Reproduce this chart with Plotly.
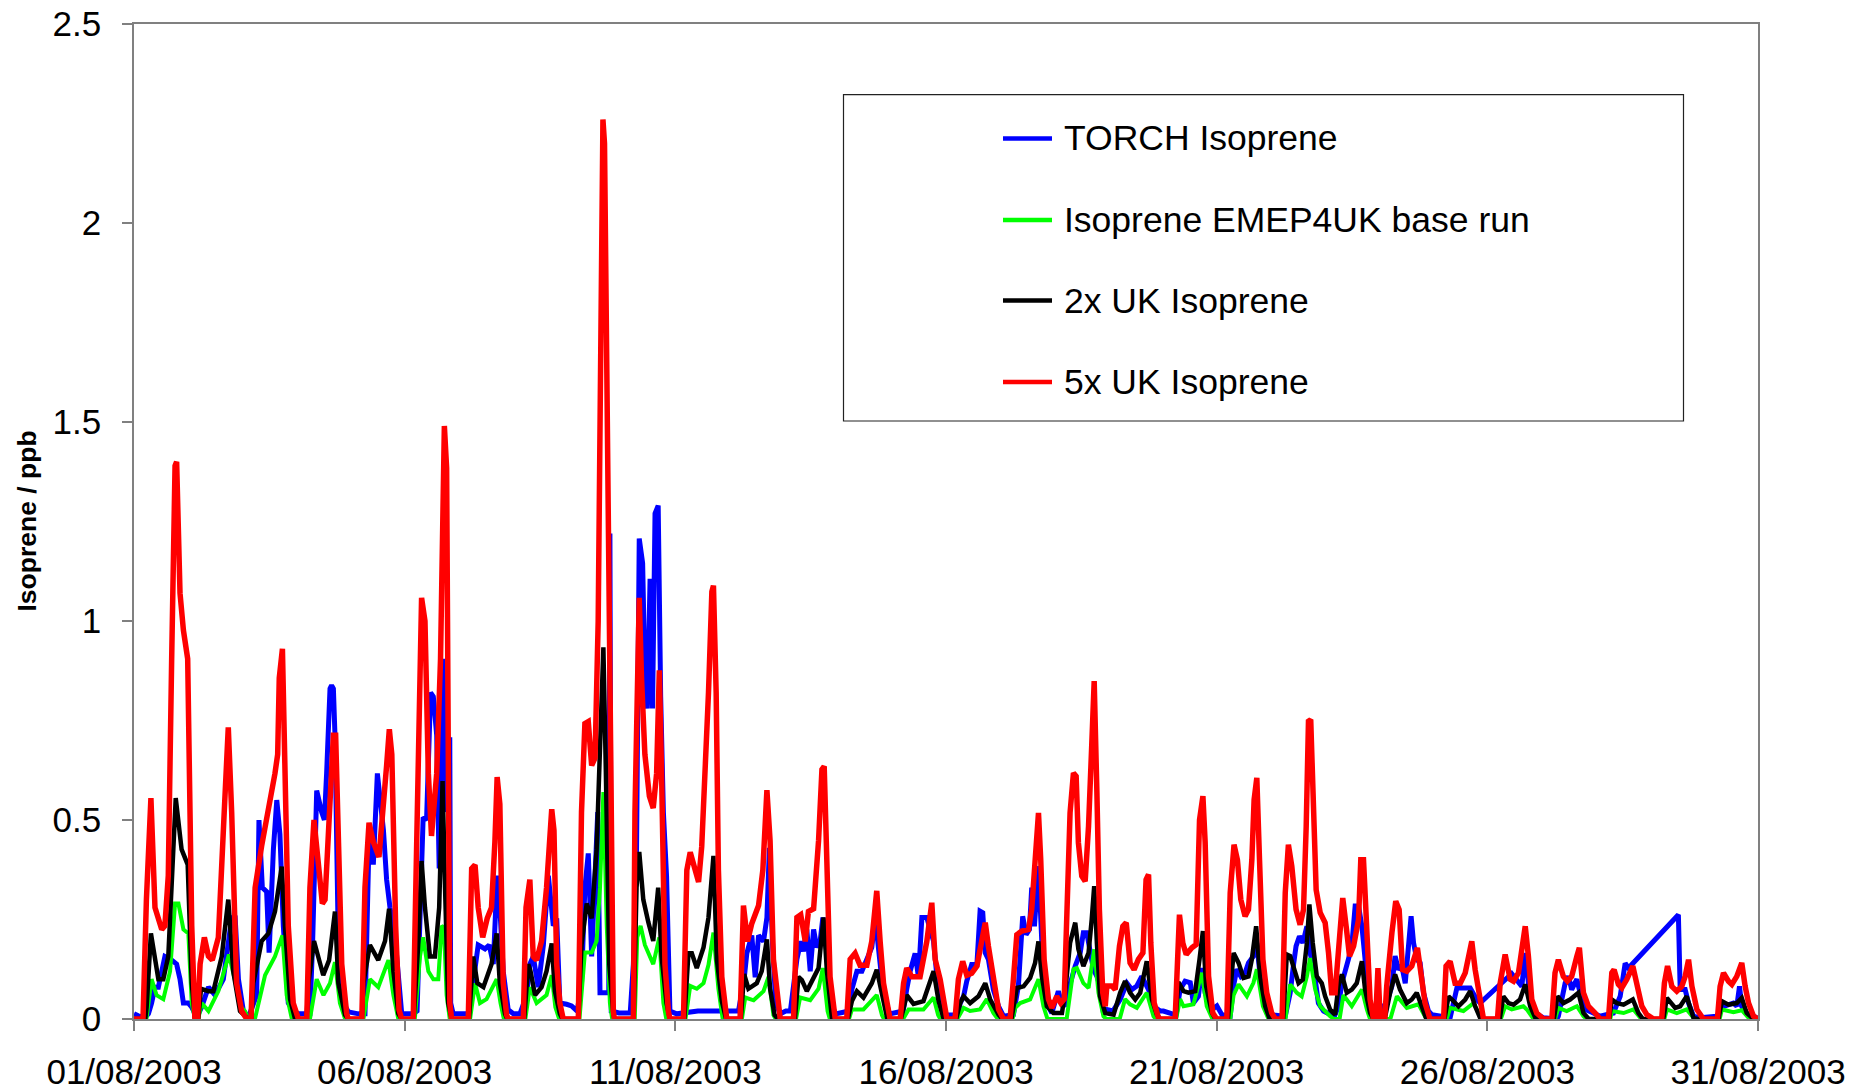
import plotly.graph_objects as go
from datetime import datetime, timedelta

# Hourly-resolution breakpoints: (hours since 01/08/2003 00:00, isoprene in ppb)
torch_obs = [
    (0, 0.013), (1.9, 0.008), (4.9, 0.004), (6.4, 0.013), (7.8, 0.04), (9.3, 0.08), (10.8, 0.08),
    (12.3, 0.12), (13.7, 0.157), (16.7, 0.148), (18.9, 0.138), (20.4, 0.10), (21.9, 0.04), (24.1, 0.04),
    (25.6, 0.03), (27.8, 0.004),
    (30, 0.03), (33, 0.08), (35.9, 0.06), (39.6, 0.10), (43.3, 0.253), (44.8, 0.26), (46.3, 0.10),
    (48.5, 0.02), (50.7, 0.004),
    (54.4, 0.06), (55.4, 0.50), (56.9, 0.33), (58.8, 0.32), (59.9, 0.167), (61.8, 0.426), (63.3, 0.55),
    (64.7, 0.464), (66.2, 0.234), (68.4, 0.04), (70.6, 0.02), (73, 0.013), (76, 0.013),
    (78, 0.013), (79.2, 0.195), (81, 0.574), (83.2, 0.52), (84.4, 0.50), (85.4, 0.617), (86.9, 0.83),
    (87.6, 0.838), (88.4, 0.83), (89.1, 0.713), (90.6, 0.186), (92.8, 0.04), (95, 0.018), (99.5, 0.013),
    (102.4, 0.013), (104.3, 0.474), (106.1, 0.388), (107.9, 0.617), (109.1, 0.56), (110.6, 0.474),
    (112, 0.35), (113.5, 0.28), (115.7, 0.205), (117.5, 0.10), (118.7, 0.013), (121.6, 0.013), (123.8, 0.013),
    (125.5, 0.02), (126.8, 0.234), (128.2, 0.507), (129.7, 0.50), (131.5, 0.82), (132.7, 0.81),
    (134.2, 0.713), (135.3, 0.378), (137.1, 0.905), (138.6, 0.52), (140, 0.708), (140.4, 0.04),
    (141.5, 0.013), (148.5, 0.013),
    (150.4, 0.09), (152.6, 0.186), (155.6, 0.176), (157.5, 0.186), (159.3, 0.138), (161, 0.36),
    (162.2, 0.28), (163.7, 0.12), (165.9, 0.023), (168.2, 0.013), (171.1, 0.013),
    (174.1, 0.06), (175.5, 0.138), (177, 0.157), (179.2, 0.08), (181.5, 0.186), (183.7, 0.36),
    (185.9, 0.234), (187.4, 0.253), (188.8, 0.04), (191.8, 0.037), (194, 0.033), (196.5, 0.02),
    (198.4, 0.09), (199.9, 0.33), (201.4, 0.416), (202.9, 0.157), (204.4, 0.33), (205.6, 0.52),
    (206.6, 0.066), (210.5, 0.066), (211.0, 1.22), (211.6, 0.02), (215, 0.015), (220, 0.015),
    (221.4, 0.138), (222.8, 0.426), (224, 1.207), (225.5, 1.145), (226.5, 0.867), (227.6, 0.78),
    (228.8, 1.106), (229.9, 0.78), (231, 1.27), (232.4, 1.29), (233.5, 0.81), (234.7, 0.52),
    (236.1, 0.36), (237.6, 0.02), (240.6, 0.013), (250, 0.02), (262, 0.02), (268, 0.02),
    (270.5, 0.1), (271.7, 0.165), (273.9, 0.21), (275.4, 0.105), (276.9, 0.21), (279.1, 0.195),
    (280.6, 0.255), (281.7, 0.43), (283, 0.2), (284.5, 0.04), (286.5, 0.013), (289, 0.02), (291, 0.02),
    (293.9, 0.15), (295.6, 0.195), (296.8, 0.17), (298.3, 0.225), (299.8, 0.12), (301.3, 0.225),
    (302.7, 0.18), (304.2, 0.195), (305.4, 0.255), (307.2, 0.165), (308.6, 0.045), (311, 0.013),
    (317, 0.02), (318.3, 0.075), (320.5, 0.12), (322.7, 0.12), (324.9, 0.15), (327.1, 0.18),
    (328.6, 0.255), (330.1, 0.18), (332.3, 0.06), (335, 0.013),
    (341, 0.02), (342.6, 0.075), (344.1, 0.12), (346.3, 0.165), (347.8, 0.105), (349.3, 0.255),
    (351.5, 0.255), (353, 0.225), (354.5, 0.195), (356, 0.105), (357.4, 0.05), (359, 0.01),
    (365, 0.01), (366.3, 0.04), (367.8, 0.057), (369.2, 0.095), (371.4, 0.137), (373.7, 0.137),
    (375.1, 0.271), (376.3, 0.267), (377.4, 0.166), (378.8, 0.15), (381, 0.074), (383.3, 0.032), (385.5, 0.007),
    (389.9, 0.011), (392.1, 0.083), (394, 0.258), (395.5, 0.212), (397, 0.225), (398, 0.33),
    (399.2, 0.233), (401, 0.384), (402.5, 0.191), (404.7, 0.04), (406.9, 0.015), (409.8, 0.07),
    (411.3, 0.04), (412.8, 0.032),
    (414.3, 0.074), (415.8, 0.107), (417.3, 0.133), (419.5, 0.166), (420.9, 0.217), (422.4, 0.217),
    (423.9, 0.175), (425.4, 0.124), (426.9, 0.107), (428.3, 0.083), (429.8, 0.015), (431.3, 0.024),
    (434, 0.02), (437.2, 0.049), (440.2, 0.09), (442.4, 0.074), (444.6, 0.083), (446.8, 0.107),
    (449.8, 0.074), (452, 0.032), (455, 0.02), (456.4, 0.02),
    (462, 0.01), (463.8, 0.074), (466, 0.095), (468.3, 0.091), (469.7, 0.04), (471.9, 0.057),
    (473.4, 0.128), (474.9, 0.066), (477.9, 0.024), (480.1, 0.033), (482.3, 0.011),
    (486, 0.007), (487.5, 0.083), (488.9, 0.125), (490.7, 0.107), (492.6, 0.116), (494.1, 0.141),
    (496.3, 0.158), (497.8, 0.191), (500, 0.066), (502.2, 0.024), (505, 0.01),
    (510.4, 0.007), (512.6, 0.066), (514, 0.133), (515.2, 0.183), (516.7, 0.208), (518.2, 0.191),
    (520, 0.233), (521.4, 0.166), (522.9, 0.133), (525.1, 0.04), (527.4, 0.02), (530.3, 0.011), (532.5, 0.011),
    (534, 0.032), (535.5, 0.09), (537, 0.116), (538.4, 0.15), (539.9, 0.183), (541.4, 0.284),
    (542.9, 0.284), (544.4, 0.233), (545.8, 0.15), (547.3, 0.041), (549.5, 0.007),
    (555.4, 0.041), (557.7, 0.083), (559.1, 0.158), (560.6, 0.124), (562.1, 0.133), (563.6, 0.09),
    (565, 0.2), (566.2, 0.258), (567.3, 0.191), (568.7, 0.15), (570.2, 0.141), (571.7, 0.066),
    (573.9, 0.02), (575.4, 0.011),
    (583.5, 0.003), (585, 0.041), (586.5, 0.078), (589.4, 0.078), (592.4, 0.078), (595.3, 0.049),
    (596.8, 0.04), (610.8, 0.114), (613.1, 0.095), (615.3, 0.082), (616.8, 0.166), (619, 0.049),
    (621.2, 0.015), (624.9, 0.003), (630.8, 0.0), (631.5, 0.007), (634.5, 0.09), (636, 0.107),
    (637.4, 0.074), (639.7, 0.1), (641.1, 0.066), (643.4, 0.024), (647, 0.015), (650, 0.007),
    (655.9, 0.015), (658.9, 0.057), (661.1, 0.14), (662.6, 0.128), (684.7, 0.262), (685.5, 0.074),
    (687.7, 0.074), (689.2, 0.04), (691.4, 0.007), (694.4, 0.003), (701.7, 0.007), (704.7, 0.032),
    (709.1, 0.04), (710.6, 0.032), (711.8, 0.082), (712.8, 0.032), (715, 0.015), (719.5, 0.003),
]

emep_base = [
    (0, 0), (5.5, 0), (7.8, 0.10), (10, 0.06), (13, 0.05), (16, 0.12), (18.2, 0.29), (19.7, 0.29),
    (21.9, 0.225), (24.1, 0.215), (25.6, 0.04), (27, 0),
    (28.5, 0), (30, 0.04), (33, 0.02), (37.4, 0.07), (42.1, 0.162), (44.8, 0.10), (47.5, 0.03), (49.2, 0.02), (50.7, 0),
    (53.6, 0), (58.1, 0.11), (62.5, 0.157), (65.8, 0.21), (67.7, 0.06), (70, 0),
    (78, 0), (81, 0.10), (84, 0.06), (86.9, 0.09), (89.1, 0.143), (91.3, 0.04), (93.6, 0),
    (101.7, 0), (104.6, 0.10), (108.3, 0.08), (112.8, 0.148), (115, 0.06), (117.2, 0),
    (124.5, 0), (126.8, 0.157), (128.2, 0.205), (130.5, 0.12), (132.7, 0.10), (134.9, 0.10),
    (136.4, 0.234), (137.4, 0.23), (138.6, 0.06), (140, 0),
    (149, 0), (151.2, 0.09), (153.4, 0.04), (156.3, 0.05), (160.8, 0.10), (162.5, 0.04), (164, 0),
    (173.5, 0), (175.5, 0.08), (178.5, 0.04), (182.9, 0.06), (185.2, 0.11), (186.8, 0.03), (188.5, 0),
    (197.5, 0), (199.9, 0.167), (202.9, 0.167), (205.1, 0.196), (206.6, 0.33), (208.1, 0.57),
    (209.6, 0.234), (211, 0.04), (212, 0),
    (222, 0), (223.1, 0.205), (224.6, 0.234), (226.5, 0.186), (230.2, 0.138), (232.9, 0.205), (234.7, 0.04), (236, 0),
    (244.5, 0), (246.6, 0.083), (249.5, 0.076), (252.5, 0.09), (254.7, 0.136), (256.9, 0.217), (259.1, 0.076), (261, 0),
    (269.5, 0), (271, 0.054), (274.7, 0.047), (279.1, 0.07), (281.3, 0.106), (283.5, 0.01), (284.5, 0),
    (293.5, 0), (295.3, 0.054), (299.8, 0.047), (303.5, 0.076), (305.4, 0.128), (307.5, 0.02), (308.5, 0),
    (317, 0), (318.3, 0.024), (323.4, 0.024), (329.3, 0.06), (331.6, 0.01), (332.5, 0),
    (341, 0), (343.4, 0.024), (350, 0.024), (354.5, 0.054), (356.5, 0.01), (357.5, 0),
    (365, 0), (367.8, 0.028), (370.7, 0.02), (375.1, 0.024), (378.1, 0.05), (381, 0.015), (383, 0),
    (389.5, 0), (390.7, 0.028), (392.9, 0.04), (397.3, 0.049), (401, 0.1), (403.2, 0.032), (405, 0),
    (413.5, 0), (414.8, 0.05), (416.5, 0.125), (418, 0.128), (420.9, 0.09), (423.2, 0.078),
    (425.7, 0.175), (427.6, 0.066), (429.8, 0.007), (431, 0),
    (437, 0), (439.4, 0.05), (441.6, 0.037), (444.6, 0.028), (449, 0.066), (452, 0.007), (453, 0),
    (462, 0), (463.8, 0.05), (465.3, 0.032), (469.7, 0.037), (473.4, 0.116), (475.6, 0.032), (477.9, 0.003), (479, 0),
    (486, 0), (487.5, 0.06), (489.7, 0.087), (493.4, 0.057), (496.3, 0.091), (497.8, 0.125), (500.5, 0.032), (503, 0),
    (510.5, 0), (512.6, 0.087), (515.5, 0.066), (517.7, 0.057), (520, 0.107), (521.4, 0.153),
    (523.7, 0.074), (525.9, 0.032), (530.3, 0.007), (532, 0),
    (534.5, 0), (536.2, 0.06), (539.9, 0.032), (544.4, 0.074), (546.6, 0.024), (548, 0),
    (557, 0), (559.9, 0.057), (564.3, 0.028), (569.5, 0.037), (571.9, 0.011), (573, 0),
    (582, 0), (583.5, 0.028), (589.4, 0.02), (593.9, 0.04), (596.8, 0.007), (598, 0),
    (606, 0), (607.9, 0.032), (610.8, 0.024), (616, 0.032), (617.5, 0.024), (620.5, 0),
    (630, 0), (631.5, 0.028), (635.2, 0.02), (639.7, 0.032), (642.6, 0.007), (644, 0),
    (654.5, 0), (655.2, 0.02), (660.4, 0.015), (664.8, 0.024), (667.8, 0.003), (669, 0),
    (678.5, 0), (679.6, 0.024), (684, 0.015), (688.4, 0.024), (691.4, 0.003), (692.5, 0),
    (703, 0), (704, 0.024), (709.1, 0.017), (712.8, 0.022), (715.8, 0.003), (717, 0), (720, 0),
]

uk_2x = [
    (0, 0), (5, 0), (5.6, 0.03), (7.5, 0.215), (10.8, 0.10), (13, 0.10), (15.2, 0.157), (16.7, 0.33),
    (18.5, 0.555), (21.1, 0.426), (23.8, 0.388), (25.6, 0.09), (27, 0),
    (28.5, 0), (29.7, 0.076), (33, 0.07), (35.2, 0.07), (38.9, 0.157), (41.8, 0.30), (44, 0.12), (47, 0.02), (50.7, 0),
    (52, 0), (52.9, 0.09), (56.6, 0.196), (59.6, 0.215), (62.5, 0.27), (65.5, 0.383), (66.9, 0.234), (69.2, 0.05), (71.4, 0),
    (76.5, 0), (77.3, 0.09), (79.8, 0.196), (83.9, 0.11), (86.5, 0.148), (89.1, 0.27), (90.6, 0.09), (93.6, 0.01), (95, 0),
    (101, 0), (101.7, 0.09), (104.6, 0.186), (108.3, 0.148), (111.3, 0.196), (113.1, 0.277), (115, 0.12), (117.2, 0.013), (118.7, 0),
    (124, 0), (126, 0.186), (127.5, 0.397), (129, 0.28), (131.2, 0.157), (133.4, 0.157), (135.3, 0.28),
    (136.8, 0.598), (137.9, 0.33), (139.3, 0.04), (140.8, 0),
    (148.5, 0), (150.4, 0.157), (152.2, 0.09), (154.9, 0.08), (158.5, 0.138), (160.8, 0.215), (162.2, 0.09), (164.5, 0.013), (165.5, 0),
    (173, 0), (174.8, 0.138), (175.8, 0.12), (177.8, 0.06), (180.7, 0.08), (182.9, 0.12), (185.2, 0.19), (186.6, 0.07), (188.8, 0.013), (190, 0),
    (197, 0), (198.4, 0.186), (200.7, 0.29), (202.9, 0.253), (205.1, 0.426), (206.6, 0.713), (208.1, 0.934),
    (209.2, 0.62), (210.7, 0.138), (212.5, 0.013), (213, 0),
    (221.5, 0), (222.8, 0.33), (224, 0.42), (225.8, 0.30), (228, 0.244), (230.2, 0.196), (232.4, 0.33), (233.9, 0.157), (236.1, 0.04), (237.6, 0),
    (244, 0), (245.8, 0.165), (247.3, 0.165), (249.5, 0.128), (252.5, 0.18), (254.7, 0.255), (256.9, 0.41), (258.4, 0.15), (260.6, 0.045), (262.5, 0),
    (269, 0), (270.5, 0.113), (272.4, 0.076), (276.1, 0.09), (278.3, 0.12), (280.6, 0.2), (282, 0.076), (284, 0.01), (285.5, 0),
    (293, 0), (294.6, 0.106), (296.1, 0.098), (298.3, 0.07), (301.3, 0.106), (303.5, 0.128), (305.7, 0.255), (307.2, 0.12), (309.5, 0),
    (316.5, 0), (318.3, 0.045), (320.5, 0.07), (323.4, 0.054), (327.1, 0.09), (329.3, 0.124), (331.6, 0.06), (334, 0),
    (340, 0), (342.6, 0.06), (345.6, 0.038), (350, 0.045), (354.5, 0.12), (356.7, 0.045), (359, 0),
    (364.5, 0), (366.3, 0.04), (367.8, 0.057), (370.7, 0.04), (374.4, 0.057), (377.4, 0.09), (379.6, 0.049), (383.3, 0.011), (385, 0),
    (389, 0), (391.4, 0.078), (394.4, 0.082), (397.3, 0.103), (399.5, 0.141), (401, 0.195), (402.5, 0.107),
    (404.7, 0.032), (407.6, 0.015), (411.4, 0.015), (412.8, 0.066),
    (415, 0.191), (417.3, 0.242), (418.7, 0.175), (420.9, 0.133), (423.2, 0.166), (424.6, 0.25), (425.7, 0.334),
    (426.9, 0.19), (428.3, 0.057), (430.6, 0.015), (434.3, 0.011),
    (437.2, 0.066), (439.4, 0.095), (441.6, 0.066), (443.9, 0.049), (446.1, 0.066), (449, 0.145), (451.3, 0.049), (453.5, 0.011), (455, 0),
    (461.8, 0), (463, 0.093), (465.3, 0.07), (467.5, 0.066), (470.5, 0.07), (472.4, 0.15), (473.9, 0.221), (475.3, 0.083), (477.9, 0.015), (479.5, 0),
    (485, 0), (486.5, 0.1), (487.5, 0.166), (489.7, 0.141), (491.9, 0.103), (494.1, 0.107), (495.6, 0.15),
    (497.5, 0.233), (499.3, 0.107), (501.5, 0.032), (503.5, 0),
    (509.5, 0), (511.1, 0.162), (512.6, 0.158), (514.8, 0.116), (516.3, 0.09), (518.2, 0.099), (520, 0.191),
    (521.1, 0.288), (522.6, 0.191), (524.4, 0.107), (526.6, 0.09), (528.1, 0.057), (530.3, 0.024), (532.5, 0.011),
    (534, 0.083), (535.5, 0.112), (537.7, 0.066), (539.9, 0.074), (542.1, 0.09), (544.4, 0.145), (545.8, 0.074), (548, 0.015), (549.5, 0),
    (554.5, 0), (556.9, 0.066), (559.1, 0.112), (561.3, 0.074), (564.3, 0.04), (566.5, 0.049), (568.7, 0.066), (571, 0.032), (573, 0),
    (581, 0), (582.8, 0.057), (584.3, 0.049), (587.2, 0.032), (590.2, 0.049), (592.4, 0.07), (594.6, 0.032), (597, 0),
    (605.5, 0), (607.1, 0.057), (609.4, 0.04), (611.6, 0.036), (614.5, 0.049), (616.8, 0.087), (619, 0.032), (621.5, 0),
    (629.5, 0), (631.1, 0.057), (633.7, 0.04), (636.7, 0.049), (640.4, 0.066), (642.6, 0.015), (645, 0),
    (654, 0), (655.2, 0.049), (657.4, 0.04), (660.4, 0.036), (664.5, 0.049), (667, 0.015), (669, 0),
    (678, 0), (679.6, 0.053), (683.3, 0.028), (685.5, 0.032), (688.4, 0.057), (691.4, 0.003), (693, 0),
    (702.5, 0), (704, 0.045), (706.9, 0.036), (710.6, 0.04), (712.8, 0.053), (715, 0.015), (718, 0), (720, 0),
]

uk_5x = [
    (0, 0), (4, 0), (5.5, 0.3), (7.5, 0.555), (9.3, 0.28), (12.3, 0.225), (13.7, 0.234), (15.2, 0.36),
    (16.7, 0.905), (18.2, 1.39), (18.9, 1.40), (20.4, 1.07), (21.9, 0.977), (23.8, 0.905), (25.6, 0.234), (27.0, 0),
    (28.2, 0), (29.3, 0.138), (31.2, 0.205), (33.0, 0.158), (34.7, 0.148), (37.4, 0.205), (40.0, 0.52),
    (41.8, 0.733), (43.3, 0.52), (45.5, 0.09), (47.7, 0.02), (50.0, 0),
    (51.9, 0), (53.7, 0.33), (56.6, 0.435), (59.6, 0.52), (62.5, 0.617), (63.7, 0.665), (64.4, 0.857),
    (65.8, 0.93), (66.9, 0.617), (68.4, 0.234), (70.6, 0.04), (72.9, 0),
    (76.6, 0), (78.0, 0.33), (79.8, 0.50), (81.7, 0.378), (83.5, 0.29), (84.7, 0.30), (86.5, 0.474),
    (88.4, 0.713), (89.4, 0.713), (90.6, 0.426), (92.1, 0.138), (94.3, 0.013), (95, 0),
    (101, 0), (102.4, 0.33), (104.2, 0.493), (106.1, 0.445), (108.6, 0.407), (110.6, 0.522), (112.0, 0.637),
    (113.2, 0.728), (114.3, 0.665), (116.0, 0.234), (117.5, 0.023), (118.7, 0),
    (123.8, 0), (124.6, 0.234), (126, 0.713), (127.5, 1.058), (129, 1.0), (130.5, 0.617), (131.9, 0.46),
    (134.2, 0.617), (135.9, 0.905), (137.1, 1.49), (137.6, 1.49), (138.6, 1.385), (140, 0.04), (140.8, 0),
    (148.2, 0), (149.7, 0.378), (151.2, 0.387), (152.6, 0.28), (154.6, 0.205), (156.6, 0.253), (158.5, 0.28),
    (160, 0.445), (161, 0.608), (162.2, 0.54), (163.7, 0.09), (165.2, 0.01), (166, 0),
    (172.6, 0), (173.8, 0.28), (175.5, 0.35), (177, 0.157), (178.5, 0.148), (180.7, 0.196), (182.9, 0.33),
    (185.2, 0.527), (186.2, 0.474), (187.4, 0.138), (188.8, 0.04), (190.3, 0),
    (197, 0), (198.4, 0.52), (199.9, 0.742), (201.4, 0.747), (202.9, 0.637), (204.4, 0.656), (205.8, 1.0),
    (206.6, 1.5), (207.3, 2.05), (207.9, 2.26), (208.6, 2.20), (209.8, 1.48), (211, 0.6), (212.5, 0.02), (213, 0),
    (221.4, 0), (222.1, 0.52), (223.1, 0.81), (224, 1.058), (225, 0.857), (226.5, 0.665), (228.5, 0.56),
    (230.2, 0.53), (231.7, 0.617), (232.9, 0.876), (233.9, 0.617), (235.4, 0.138), (236.9, 0.02), (237.6, 0),
    (243.6, 0), (245.1, 0.374), (246.6, 0.419), (248, 0.389), (250.3, 0.344), (251.7, 0.433), (253.2, 0.597),
    (254.7, 0.82), (256.2, 1.074), (256.9, 1.089), (258.1, 0.82), (259.1, 0.374), (260.6, 0.106), (262.8, 0),
    (268.7, 0), (270.2, 0.285), (272, 0.195), (273.9, 0.24), (276.9, 0.285), (278.8, 0.374), (280.6, 0.575),
    (282, 0.448), (283.5, 0.15), (285.7, 0.03), (286.5, 0),
    (292.4, 0), (293.9, 0.255), (295.6, 0.262), (297.6, 0.195), (299, 0.27), (301.3, 0.277), (303.5, 0.448),
    (305, 0.627), (306, 0.635), (307.2, 0.374), (308.6, 0.106), (310.9, 0),
    (316, 0), (317.5, 0.15), (319.7, 0.165), (321.9, 0.135), (324.9, 0.135), (327.1, 0.195), (329.3, 0.322),
    (330.8, 0.195), (332.3, 0.09), (335.2, 0),
    (339.7, 0), (341.2, 0.09), (342.6, 0.128), (344.9, 0.106), (348.5, 0.106), (351.5, 0.195), (353.7, 0.292),
    (355.2, 0.15), (357.4, 0.1), (360.4, 0),
    (364, 0), (365.5, 0.1), (367.4, 0.145), (369.2, 0.11), (371.4, 0.115), (373.7, 0.133), (375.9, 0.2),
    (377.4, 0.242), (378.8, 0.183), (381.1, 0.1), (383.3, 0.024), (385.5, 0),
    (388.4, 0), (389.9, 0.1), (391.4, 0.212), (393.6, 0.221), (396.6, 0.225), (398, 0.275), (399.5, 0.4),
    (401, 0.518), (402, 0.4), (403.5, 0.15), (405.4, 0.05), (406.9, 0.028), (409.1, 0.057), (410.9, 0.04), (412.4, 0.05),
    (413.6, 0.275), (415, 0.518), (416.5, 0.618), (417.7, 0.61), (418.7, 0.443), (420.2, 0.359), (421.7, 0.346),
    (423.2, 0.485), (424.6, 0.686), (425.7, 0.849), (426.9, 0.568), (428, 0.275), (429.5, 0.066), (430.6, 0.032),
    (431.3, 0.083), (433.5, 0.083), (435, 0.074), (436.9, 0.183), (438.4, 0.233), (439.9, 0.242), (441.6, 0.141),
    (443.4, 0.124), (445.3, 0.15), (447.3, 0.166), (448.7, 0.35), (449.8, 0.363), (450.8, 0.191), (452.3, 0.04),
    (454.2, 0.003), (455, 0),
    (461.6, 0), (462.6, 0.191), (463.5, 0.262), (465, 0.191), (466.5, 0.162), (469, 0.179), (470.9, 0.187),
    (472.4, 0.5), (473.9, 0.56), (474.9, 0.443), (476.4, 0.108), (478.3, 0.015), (480, 0),
    (484.5, 0), (486, 0.317), (487.7, 0.438), (489.2, 0.4), (490.7, 0.3), (492.6, 0.258), (494.1, 0.275),
    (495.6, 0.4), (496.6, 0.551), (497.8, 0.606), (499, 0.4), (500.5, 0.15), (502.2, 0.066), (504.4, 0.015), (506, 0),
    (509, 0), (510.4, 0.317), (511.8, 0.438), (513.3, 0.384), (515.2, 0.275), (517, 0.237), (518.5, 0.275),
    (519.7, 0.485), (520.7, 0.748), (521.7, 0.752), (522.9, 0.485), (524.1, 0.325), (525.9, 0.267),
    (528.1, 0.242), (529.6, 0.166), (531, 0.066), (532.5, 0.066),
    (534, 0.191), (535.9, 0.304), (537.4, 0.233), (538.9, 0.158), (540.7, 0.183), (542.9, 0.25), (543.9, 0.4),
    (545.1, 0.4), (545.8, 0.317), (546.6, 0.191), (548, 0.049), (549.5, 0), (550.5, 0), (551.5, 0.128),
    (552.5, 0), (554.5, 0),
    (555.4, 0.083), (557.7, 0.217), (559.4, 0.296), (560.9, 0.275), (562.4, 0.124), (564.3, 0.12),
    (566.5, 0.133), (569, 0.179), (570.5, 0.108), (572.4, 0.04), (574.6, 0),
    (580.6, 0), (581.7, 0.133), (583.5, 0.145), (585.7, 0.09), (588, 0.09), (590.2, 0.116), (591.6, 0.15),
    (593.1, 0.195), (594.6, 0.124), (596.8, 0.04), (598.3, 0),
    (604.5, 0), (605.7, 0.09), (607.9, 0.162), (610.1, 0.1), (611.6, 0.095), (613.8, 0.116), (615.3, 0.175),
    (616.8, 0.233), (618.2, 0.158), (619.7, 0.049), (621.9, 0.015), (624.9, 0),
    (628.6, 0), (630, 0.116), (631.5, 0.149), (633.7, 0.107), (635.5, 0.095), (637.4, 0.107), (639.7, 0.158),
    (640.8, 0.179), (642.6, 0.066), (644.8, 0.032), (647.8, 0.015), (650, 0),
    (653.7, 0), (655.2, 0.116), (656.2, 0.124), (658.1, 0.087), (659.6, 0.078), (661.8, 0.099), (664.5, 0.133),
    (666.3, 0.082), (668.5, 0.032), (670.7, 0.011), (673.7, 0),
    (677.3, 0), (678.5, 0.09), (679.9, 0.133), (681.8, 0.082), (684, 0.07), (686.2, 0.082), (687.7, 0.107),
    (689.2, 0.149), (690.7, 0.082), (692.9, 0.024), (695.8, 0),
    (702, 0), (703.2, 0.082), (704.7, 0.116), (706.9, 0.095), (708.4, 0.087), (710.6, 0.107), (712.8, 0.141),
    (714.3, 0.082), (715.8, 0.04), (718, 0.007), (720, 0),
]

tick_dates = ["2003-08-01", "2003-08-06", "2003-08-11", "2003-08-16", "2003-08-21", "2003-08-26", "2003-08-31"]
tick_labels = ["01/08/2003", "06/08/2003", "11/08/2003", "16/08/2003", "21/08/2003", "26/08/2003", "31/08/2003"]
y_ticks = [0, 0.5, 1, 1.5, 2, 2.5]

series = [
    ("TORCH Isoprene", torch_obs, "#0000FF", 5),
    ("Isoprene EMEP4UK base run", emep_base, "#00FF00", 4),
    ("2x UK Isoprene", uk_2x, "#000000", 4.5),
    ("5x UK Isoprene", uk_5x, "#FF0000", 5.5),
]

START = datetime(2003, 8, 1)
FONT = "Liberation Sans, Arial, sans-serif"

# Figure geometry in pixels
W, H = 1855, 1091
ML, MR, MT, MB = 134, 97, 24, 72
PW, PH = W - ML - MR, H - MT - MB


def px_x(px):
    return (px - ML) / PW


def px_y(py):
    return (H - MB - py) / PH


fig = go.Figure()
for name, pts, color, width in series:
    fig.add_trace(go.Scatter(
        x=[START + timedelta(hours=h) for h, _ in pts],
        y=[v for _, v in pts],
        mode="lines",
        name=name,
        line=dict(color=color, width=width),
        showlegend=False,
    ))

# Legend frame, line samples and labels
shapes = [dict(type="rect", xref="paper", yref="paper",
               x0=px_x(843.5), x1=px_x(1683.5), y0=px_y(421), y1=px_y(94.6),
               line=dict(color="#222222", width=1.2), fillcolor="white", layer="below")]
annotations = []
legend_rows = [138.4, 220, 300.5, 382]
for (name, _, color, _), ry in zip(series, legend_rows):
    shapes.append(dict(type="line", xref="paper", yref="paper",
                       x0=px_x(1003), x1=px_x(1052), y0=px_y(ry), y1=px_y(ry),
                       line=dict(color=color, width=4.5)))
    annotations.append(dict(xref="paper", yref="paper", x=px_x(1062), y=px_y(ry),
                            text=name, showarrow=False, xanchor="left", yanchor="middle",
                            font=dict(family=FONT, size=35.5, color="black")))

annotations.append(dict(xref="paper", yref="paper", x=px_x(26), y=0.5, text="<b>Isoprene / ppb</b>",
                        textangle=-90, showarrow=False, xanchor="center", yanchor="middle",
                        font=dict(family=FONT, size=26.5, color="black")))

fig.update_layout(
    width=W, height=H,
    margin=dict(l=ML, r=MR, t=MT, b=MB, autoexpand=False),
    paper_bgcolor="white", plot_bgcolor="white",
    template="none",
    shapes=shapes, annotations=annotations,
    font=dict(family=FONT, size=35, color="black"),
)
fig.update_xaxes(
    type="date", range=[tick_dates[0], tick_dates[-1]],
    tickmode="array", tickvals=tick_dates, ticktext=tick_labels,
    showgrid=False, zeroline=False, showline=True, linecolor="#808080", linewidth=1.5,
    mirror=True, ticks="outside", ticklen=10, tickcolor="#808080", tickwidth=1.5,
    ticklabelstandoff=11, automargin=False,
    tickfont=dict(family=FONT, size=35, color="black"),
)
fig.update_yaxes(
    range=[0, 2.5], tickmode="array", tickvals=y_ticks,
    showgrid=False, zeroline=False, showline=True, linecolor="#808080", linewidth=1.5,
    mirror=True, ticks="outside", ticklen=10, tickcolor="#808080", tickwidth=1.5,
    ticklabelstandoff=14, automargin=False,
    tickfont=dict(family=FONT, size=35, color="black"),
)

fig.write_html("out.html")
